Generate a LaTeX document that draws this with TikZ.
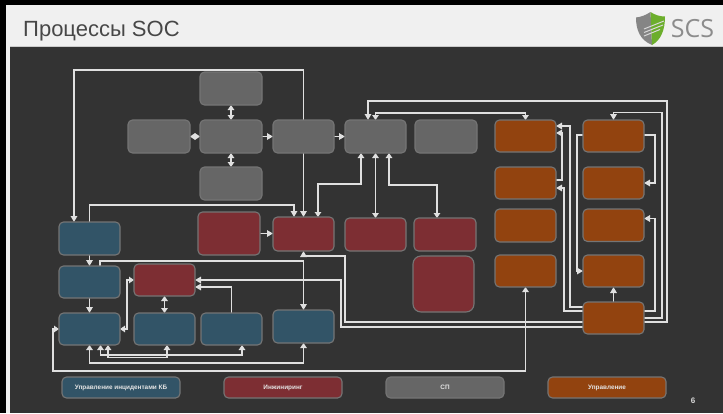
\documentclass[tikz,border=0pt]{standalone}
\usepackage{fontspec}
\setmainfont{Liberation Sans}
\newfontfamily\logofont{Open Sans}
\usetikzlibrary{arrows.meta,backgrounds}
\definecolor{panelc}{HTML}{333333}
\definecolor{headc}{HTML}{F0F0F0}
\definecolor{greyc}{HTML}{666666}
\definecolor{orangec}{HTML}{92430F}
\definecolor{redc}{HTML}{7D2E33}
\definecolor{bluec}{HTML}{325467}
\definecolor{edgec}{HTML}{757575}
\definecolor{linec}{HTML}{E0E0E0}
\definecolor{shieldgreen}{HTML}{6CAE2C}
\tikzset{
  proc/.style={rectangle,rounded corners=4.5pt,draw=edgec,line width=1.1pt,inner sep=0pt,outer sep=0pt},
  greybox/.style={proc,fill=greyc},
  orangebox/.style={proc,fill=orangec},
  redbox/.style={proc,fill=redc},
  bluebox/.style={proc,fill=bluec},
  legtext/.style={text=white!90!black,font=\fontsize{6.4}{7}\selectfont\bfseries},
  arr/.style={draw=linec,line width=1.4pt,-{Triangle[length=6pt,width=6.5pt]}},
  both/.style={draw=linec,line width=1.4pt,{Triangle[length=5pt,width=6.5pt]}-{Triangle[length=5pt,width=6.5pt]}},
}
\newcommand{\procbox}[6]{% style, name, x1, y1, x2, y2
  \pgfmathsetmacro{\cxx}{(#3+#5)/2}\pgfmathsetmacro{\cyy}{(#4+#6)/2}
  \pgfmathsetmacro{\wdd}{#5-#3}\pgfmathsetmacro{\htt}{#6-#4}
  \node[#1,minimum width=\wdd pt,minimum height=\htt pt] (#2) at (\cxx,\cyy) {};}
\newcommand{\legbox}[7]{% style, name, x1, y1, x2, y2, text
  \pgfmathsetmacro{\cxx}{(#3+#5)/2}\pgfmathsetmacro{\cyy}{(#4+#6)/2}
  \pgfmathsetmacro{\wdd}{#5-#3}\pgfmathsetmacro{\htt}{#6-#4}
  \node[#1,legtext,minimum width=\wdd pt,minimum height=\htt pt] (#2) at (\cxx,\cyy) {#7};}
\begin{document}
\begin{tikzpicture}[x=1pt,y=-1pt]
\useasboundingbox (0,0) rectangle (723,413);
% grey process boxes
\procbox{greybox}{gt}{200}{72}{262}{105}
\procbox{greybox}{gl}{128}{120}{190}{153}
\procbox{greybox}{gc}{200}{120}{262}{153}
\procbox{greybox}{gr}{273}{120}{334}{153}
\procbox{greybox}{gs}{345}{120}{406}{153}
\procbox{greybox}{gx}{415}{120}{477}{153}
\procbox{greybox}{gb}{200}{167}{262}{200}
% orange
\procbox{orangebox}{o11}{495}{120}{556}{152}
\procbox{orangebox}{o12}{495}{167}{556}{199}
\procbox{orangebox}{o13}{495}{209}{556}{242}
\procbox{orangebox}{o14}{495}{255}{556}{287}
\procbox{orangebox}{o21}{583}{120}{644}{152}
\procbox{orangebox}{o22}{583}{167}{644}{199}
\procbox{orangebox}{o23}{583}{209}{644}{241.5}
\procbox{orangebox}{o24}{583}{255}{644}{287}
\procbox{orangebox}{o25}{583}{302}{644}{334}
% blue
\procbox{bluebox}{b1}{59}{222}{120}{255}
\procbox{bluebox}{b2}{59}{266}{120}{298}
\procbox{bluebox}{b3}{59}{313}{120}{345}
\procbox{bluebox}{b4}{134}{313}{195}{345}
\procbox{bluebox}{b5}{201}{313}{262}{345}
\procbox{bluebox}{b6}{273}{310}{334}{343}
% red
\procbox{redbox}{r1}{198}{212}{260}{255}
\procbox{redbox}{r2}{273}{217}{334}{251}
\procbox{redbox}{r3}{345}{218}{406}{251}
\procbox{redbox}{r4}{414}{218}{476}{251}
\procbox{redbox,rounded corners=8pt}{r5}{413}{256}{474}{312}
\procbox{redbox}{r6}{134}{264}{195}{296}
% legend
\legbox{bluebox}{l1}{62}{377}{180}{398}{Управление инцидентами КБ}
\legbox{redbox}{l2}{224}{377}{342}{398}{Инжиниринг}
\legbox{greybox}{l3}{386}{377}{504}{398}{СП}
\legbox{orangebox}{l4}{548}{377}{666}{398}{Управление}
% texts
\node[anchor=west,inner sep=0pt,text=black!72,font=\fontsize{22}{26}\selectfont] (title) at (23,31.5) {Процессы SOC};
\node[anchor=center,inner sep=0pt,text=white!85!black,font=\fontsize{8}{9}\selectfont\bfseries] (pageno) at (693,401) {6};
\node[anchor=center,inner sep=0pt,text=black!45,font=\logofont\fontsize{25}{28}\selectfont] (logotext) at (692.5,29) {SCS};
% rails
\coordinate (railA) at (74,70);
\coordinate (railB) at (294,205);
\coordinate (railC) at (318,184); \coordinate (railCb) at (361,184);
\coordinate (railD) at (389,185); \coordinate (railDb) at (437,185);
\coordinate (railE) at (368,101); \coordinate (railEb) at (667,101); \coordinate (railEc) at (667,322);
\coordinate (railF) at (375.5,113);
\coordinate (railG) at (662,112.5); \coordinate (railGb) at (662,318);
\coordinate (railH) at (655,135);
\coordinate (railI) at (655,311); \coordinate (railIb) at (655,218.5);
\coordinate (railJ) at (577,135);
\coordinate (railK) at (564,311); \coordinate (railKb) at (564,188);
\coordinate (railL) at (570,307); \coordinate (railLb) at (570,126);
\coordinate (railM) at (562,180); \coordinate (railMb) at (562,133);
\coordinate (railN) at (345,322); \coordinate (railNb) at (345,256);
\coordinate (railO) at (341,327); \coordinate (railOb) at (341,280);
\coordinate (railP) at (231.5,287);
\coordinate (railQ) at (100,261);
\coordinate (railR) at (127,329); \coordinate (railRb) at (127,280);
\coordinate (railS) at (53,371);
\coordinate (railT) at (303.5,363);
\coordinate (railU) at (100.5,355); \coordinate (railUb) at (242,355);
\coordinate (railV) at (108,357.5); \coordinate (railVb) at (167,357.5);
\begin{pgfonlayer}{background}
  \fill[black] (0,0) rectangle (723,413);
  \fill[headc] (6,5) rectangle (723,413);
  \fill[panelc] (10,47) rectangle (723,413);
  \draw[black!20,line width=0.8pt] (10,46.5) -- (723,46.5);
  % logo shield
  \fill[black!48] (650.5,12) .. controls (646,15) and (641,17) .. (636,17.5) .. controls (636,30) and (640,40) .. (652,45) -- cycle;
  \fill[shieldgreen] (650.5,12) .. controls (655,15) and (660,16.5) .. (665,16.5) .. controls (665,30) and (661,40) .. (652,45) -- cycle;
  \draw[white!85!black,line width=1pt] (644,29) -- (664,21) (644,32.5) -- (663,25) (644,36) -- (660,29.5);
  % grey group
  \draw[both] (gl.east) -- (gc.west);
  \draw[both] (gt.south) -- (gc.north);
  \draw[both] (gc.south) -- (gb.north);
  \draw[arr] (gc.east) -- (gr.west);
  \draw[arr] (gr.east) -- (gs.west);
  % long connectors
  \draw[arr] (gr.north) |- (railA) -- (railA |- b1.north);
  \draw[arr] (gr.south) -- (r2.north);
  \draw[arr] (b1.north) |- (railB) -- (railB |- r2.north);
  \draw[both] (railC |- r2.north) -- (railC) -- (railCb) -- (railCb |- gs.south);
  \draw[both] (gs.south) -- (gs.south |- r3.north);
  \draw[both] (railD |- gs.south) -- (railD) -- (railDb) -- (railDb |- r4.north);
  \draw[arr] (railEc -| o25.east) -- (railEc) -- (railEb) -- (railE) -- (railE |- gs.north);
  \draw[both] (railF |- gs.north) -- (railF) -| (o11.north);
  \draw[arr] (railGb -| o25.east) -- (railGb) -- (railG) -| (o21.north);
  \draw[arr] (o21.east |- railH) -- (railH) |- (o22.east);
  \draw[arr] (railI -| o25.east) -- (railI) -- (railIb) -- (railIb -| o23.east);
  \draw[arr] (o21.west |- railJ) -- (railJ) |- (o24.west);
  \draw[arr] (railK -| o25.west) -- (railK) -- (railKb) -- (railKb -| o12.east);
  \draw[arr] (railL -| o25.west) -- (railL) -- (railLb) -- (railLb -| o11.east);
  \draw[arr] (railM -| o12.east) -- (railM) -- (railMb) -- (railMb -| o11.east);
  \draw[arr] (railN -| o25.west) -- (railN) -- (railNb) -| (r2.south);
  \draw[arr] (railO -| o25.west) -- (railO) -- (railOb) -- (railOb -| r6.east);
  \draw[arr] (b5.north) |- (railP -| r6.east);
  \draw[arr] (railQ |- b2.north) -- (railQ) -| (b6.north);
  \draw[arr] (b1.south) -- (b2.north);
  \draw[arr] (b2.south) -- (b3.north);
  \draw[arr] (r1.east) -- (r1.east -| r2.west);
  \draw[arr] (o25.north) -- (o24.south);
  \draw[both] (b3.east) -- (railR) -- (railRb) -- (railRb -| r6.west);
  \draw[both] (r6.south) -- (r6.south |- b4.north);
  \draw[both] (b3.west) -- (b3.west -| railS) -- (railS) -| (o14.south);
  \draw[both] (b3.south) |- (railT) -- (b6.south);
  \draw[both] (railU |- b3.south) -- (railU) -- (railUb) -- (railUb |- b5.south);
  \draw[both] (railV |- b3.south) -- (railV) -- (railVb) -- (railVb |- b4.south);
\end{pgfonlayer}
\end{tikzpicture}
\end{document}
